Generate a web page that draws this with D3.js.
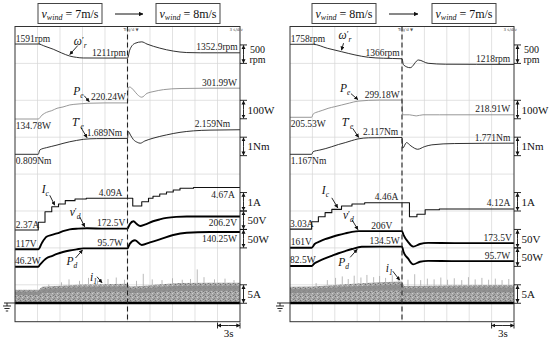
<!DOCTYPE html>
<html>
<head>
<meta charset="utf-8">
<script src="https://cdn.jsdelivr.net/npm/d3@7"></script>
<style>
  body { margin: 0; background: #fff; }
  svg { display: block; font-family: "Liberation Serif", "Times New Roman", serif; }
</style>
</head>
<body>
<svg id="chart" width="550" height="340"></svg>
<script>
// scope captures, time in s (3 s/div, wind step at 15 s)
// left: v_wind 7 -> 8 m/s, right: 8 -> 7 m/s
const windLeft = ["7m/s", "8m/s"];
const windRight = ["8m/s", "7m/s"];

// rotor speed (rpm)
const speedL_t = [0, 3.1, 4, 5.1, 6.2, 7.3, 8.2, 9.1, 12, 15, 15.3, 16, 16.9, 17.6, 19.3, 21.1, 22.9, 24.7, 27, 30];
const speedL   = [1591, 1591, 1530, 1450, 1350, 1265, 1230, 1213, 1211, 1211, 1430, 1610, 1650, 1590, 1480, 1400, 1360, 1353, 1353, 1353];
const speedR_t = [0, 3.1, 5, 6.9, 8.7, 10.5, 12.5, 15, 15.2, 16.1, 17.2, 18.5, 20.8, 25, 30];
const speedR   = [1758, 1758, 1650, 1557, 1470, 1405, 1380, 1366, 1200, 1123, 1332, 1243, 1218, 1215, 1212];

// electrical power Pe (W)
const peL_t = [0, 3.1, 3.6, 4.2, 4.9, 5.6, 6.4, 7.3, 8.4, 9.6, 12, 15, 15.1, 15.3, 15.8, 16.3, 16.9, 17.6, 18.4, 19.8, 22, 26, 30];
const peL   = [134.8, 134.8, 156, 171, 180, 193, 200, 211, 216, 220, 222, 222, 305, 308, 292, 268, 253, 274, 283, 294, 300, 302, 302];
const peR_t = [0, 2.9, 3.1, 3.8, 4.4, 5.1, 6, 6.9, 8, 9.1, 12, 15, 15.1, 16, 16.9, 17.8, 20, 30];
const peR   = [205.5, 205.5, 223, 236, 244, 254, 263, 272, 283, 293, 299, 299, 219, 219, 213, 219, 219, 219];

// electromagnetic torque Te (Nm)
const teL_t = [0, 3.1, 3.3, 4.2, 4.9, 5.6, 6.4, 7.3, 8.2, 9.1, 10.9, 15, 15.1, 15.4, 15.8, 16.3, 16.7, 17.3, 18.4, 20.2, 22, 23.8, 26, 30];
const teL   = [0.809, 0.809, 1.04, 1.17, 1.24, 1.31, 1.40, 1.49, 1.56, 1.62, 1.66, 1.67, 2.05, 1.85, 1.6, 1.46, 1.41, 1.53, 1.68, 1.86, 2.0, 2.08, 2.12, 2.14];
const teR_t = [0, 2.9, 3.1, 4.0, 4.8, 5.6, 6.5, 7.4, 8.2, 9.1, 10.5, 15, 15.1, 15.6, 16.2, 17.1, 18, 19, 22, 30];
const teR   = [1.167, 1.167, 1.31, 1.40, 1.48, 1.58, 1.70, 1.80, 1.90, 2.00, 2.06, 2.08, 1.50, 1.80, 1.62, 1.44, 1.58, 1.68, 1.75, 1.771];

// current reference Ic (A), stepped
const icL_t = [0, 3.1, 4.0, 4.9, 5.8, 6.7, 8.0, 9.5, 15.7, 16.9, 17.8, 18.4, 19.3, 20.2, 21.1, 22, 23.8, 30];
const icL   = [2.37, 2.79, 3.36, 3.63, 3.78, 3.96, 4.05, 4.09, 3.67, 3.90, 4.09, 4.20, 4.32, 4.43, 4.54, 4.63, 4.67, 4.67];
const icR_t = [0, 2.9, 3.8, 4.7, 5.6, 6.9, 8.3, 10.0, 16.0, 17.0, 18.1, 20, 30];
const icR   = [3.03, 3.43, 3.70, 3.92, 4.10, 4.28, 4.39, 4.46, 3.70, 3.83, 4.08, 4.12, 4.12];

// dc voltage vd (V)
const vdL_t = [0, 3.1, 3.6, 4.2, 4.9, 5.6, 6.4, 7.3, 8.4, 9.6, 12, 15, 15.3, 15.8, 16.2, 16.7, 17.3, 18.4, 19.3, 20.2, 21.5, 22.9, 26, 30];
const vdL   = [117, 117, 135, 151, 156, 160, 166, 171, 173, 174, 173, 173, 185, 193, 186, 180, 184, 193, 198, 202, 205, 206, 206, 206];
const vdR_t = [0, 2.9, 3.3, 4.0, 4.7, 5.6, 6.5, 7.4, 8.3, 9.2, 12, 15, 15.2, 15.8, 16.5, 17.4, 18.5, 22, 30];
const vdR   = [161, 161, 171, 178, 184, 190, 195.5, 200, 204, 206, 206, 206, 196, 177, 164, 171, 174, 173.5, 173.5];

// dc power Pd (W)
const pdL_t = [0, 3.1, 3.3, 4.2, 4.9, 5.6, 6.4, 7.3, 8.2, 9.1, 12, 15, 15.3, 16, 16.9, 18, 19.3, 21.1, 22.9, 26, 30];
const pdL   = [46.2, 46.2, 51, 69, 75, 81, 86, 90, 93, 95.7, 95.7, 95.7, 108, 118, 105, 112, 120, 132, 138, 140, 140.25];
const pdR_t = [0, 2.9, 3.3, 4.0, 4.7, 5.6, 6.5, 7.4, 8.3, 9.6, 12, 15, 15.2, 15.8, 16.5, 17.4, 18.5, 22, 30];
const pdR   = [82.5, 82.5, 90, 97, 103, 110, 117, 123, 128.5, 134.5, 135, 135, 121, 103, 87, 94, 96.5, 95.7, 95.7];

// line current i1: envelope of the band (A) and the taller spikes
const i1L_t = [0, 3.2, 3.6, 6, 9, 12, 15, 15.3, 17, 19, 22, 26, 30];
const i1L   = [3.6, 3.6, 4.4, 4.7, 5.0, 5.1, 5.2, 4.5, 4.6, 5.0, 5.4, 5.5, 5.5];
const i1R_t = [0, 3, 6, 9, 12, 15, 15.3, 18, 22, 26, 30];
const i1R   = [4.4, 4.5, 4.9, 5.3, 5.6, 5.8, 4.6, 4.7, 4.8, 4.9, 4.9];
const spikeL_t = [4.5, 6.2, 7.2, 8.6, 9.8, 11.0, 12.4, 13.5, 14.6, 16.2, 17.1, 18.3, 19.6, 21.0, 22.3, 23.4, 24.3, 25.2, 26.6, 28.0, 29.2];
const spikeL   = [5.0, 5.6, 6.4, 6.0, 6.8, 6.1, 6.5, 6.9, 6.3, 6.0, 7.9, 6.4, 6.2, 6.7, 6.3, 6.5, 9.1, 7.0, 6.4, 6.6, 6.2];
const spikeR_t = [3.5, 5.0, 6.1, 7.0, 7.8, 8.6, 9.5, 10.3, 11.2, 12.0, 12.8, 13.7, 14.5, 15.8, 16.7, 17.5, 18.4, 19.3, 20.2, 21.1, 22.0, 23.0, 23.9, 24.8, 25.7, 26.6, 27.5, 28.4, 29.3];
const spikeR   = [5.4, 6.2, 6.8, 7.2, 6.5, 7.4, 6.9, 7.6, 7.0, 7.3, 6.8, 7.5, 7.0, 6.3, 7.8, 6.2, 6.6, 6.4, 6.9, 6.3, 6.7, 6.2, 7.0, 6.4, 6.8, 6.3, 6.6, 6.2, 6.5];

// value call-outs: text, channel, time, anchor, above/below
const calloutsL = [
  ["1591rpm", "speed", 0.1, "start", 1], ["1211rpm", "speed", 14.8, "end", 1], ["1352.9rpm", "speed", 29.7, "end", 1],
  ["301.99W", "pe", 29.6, "end", 1], ["220.24W", "pe", 14.8, "end", 1], ["134.78W", "pe", 0.1, "start", 0],
  ["1.689Nm", "te", 14.3, "end", 1], ["2.159Nm", "te", 28.7, "end", 1], ["0.809Nm", "te", 0.1, "start", 0],
  ["4.09A", "ic", 14.3, "end", 1], ["4.67A", "ic", 29.3, "end", 0], ["2.37A", "ic", 0.1, "start", 1],
  ["172.5V", "vd", 14.7, "end", 1], ["206.2V", "vd", 29.6, "end", 0], ["117V", "vd", 0.1, "start", 1],
  ["95.7W", "pd", 14.4, "end", 1], ["140.25W", "pd", 29.6, "end", 0], ["46.2W", "pd", 0.0, "start", 1]
];
const calloutsR = [
  ["1758rpm", "speed", 0.1, "start", 1], ["1366rpm", "speed", 14.7, "end", 1], ["1218rpm", "speed", 29.5, "end", 1],
  ["299.18W", "pe", 14.7, "end", 1], ["218.91W", "pe", 29.5, "end", 1], ["205.53W", "pe", 0.1, "start", 0],
  ["2.117Nm", "te", 14.5, "end", 1], ["1.771Nm", "te", 29.5, "end", 1], ["1.167Nm", "te", 0.1, "start", 0],
  ["4.46A", "ic", 14.5, "end", 1], ["4.12A", "ic", 29.5, "end", 1], ["3.03A", "ic", 0.0, "start", 1],
  ["206V", "vd", 13.7, "end", 1], ["173.5V", "vd", 29.7, "end", 1], ["161V", "vd", 0.1, "start", 1],
  ["134.5W", "pd", 14.7, "end", 1], ["95.7W", "pd", 29.5, "end", 1], ["82.5W", "pd", 0.0, "start", 1]
];

// scale bars: bottom division, text lines
const barsL = [[7.0, ["500", "rpm"]], [5.5, ["100W"]], [4.5, ["1Nm"]], [3.0, ["1A"]], [2.5, ["50V"]], [2.0, ["50W"]], [0.5, ["5A"]]];
const barsR = [[7.0, ["500", "rpm"]], [5.5, ["100W"]], [4.5, ["1Nm"]], [3.0, ["1A"]], [2.0, ["50V"]], [1.5, ["50W"]], [0.5, ["5A"]]];

// channel settings: units per division
const perDiv = { speed: 1000, pe: 200, te: 2, ic: 2, vd: 100, pd: 100, i1: 10 };

const svg = d3.select("#chart");
const yDiv = d3.scaleLinear().domain([0, 8]).range([321.7, 26.5]);

const defs = svg.append("defs");
defs.append("marker").attr("id", "ah").attr("viewBox", "0 0 6 6")
  .attr("refX", 5.5).attr("refY", 3).attr("markerWidth", 4.5).attr("markerHeight", 4.5)
  .attr("orient", "auto-start-reverse")
  .append("path").attr("d", "M0,0L6,3L0,6Z").attr("fill", "#111");
const pat = defs.append("pattern").attr("id", "speck").attr("width", 5).attr("height", 4)
  .attr("patternUnits", "userSpaceOnUse");
pat.append("rect").attr("width", 5).attr("height", 4).attr("fill", "#a4a4a4");
[[0, 0, "#707070"], [2, 1, "#cfcfcf"], [4, 2, "#858585"], [1, 3, "#c0c0c0"], [3, 3, "#7a7a7a"], [3, 0, "#b8b8b8"]]
  .forEach(function (p) { pat.append("rect").attr("x", p[0]).attr("y", p[1]).attr("width", 1).attr("height", 1).attr("fill", p[2]); });

function interp(ts, vs, t, step) {
  var i = d3.bisectRight(ts, t);
  if (i <= 0) return vs[0];
  if (i >= ts.length) return vs[vs.length - 1];
  if (step) return vs[i - 1];
  return vs[i - 1] + (vs[i] - vs[i - 1]) * (t - ts[i - 1]) / (ts[i] - ts[i - 1]);
}

const panels = [
  {
    x0: 15, x1: 240, wind: windLeft, boxes: [38, 156], arrow: [115, 143], ground: 4,
    zero: { speed: 5.934, pe: 4.819, te: 4.132, ic: 1.300, vd: 0.792, pd: 1.029, i1: 0.507 },
    series: { speed: [speedL_t, speedL], pe: [peL_t, peL], te: [teL_t, teL], ic: [icL_t, icL], vd: [vdL_t, vdL], pd: [pdL_t, pdL] },
    i1: [i1L_t, i1L], spikes: [spikeL_t, spikeL], callouts: calloutsL, bars: barsL,
    notes: [
      ["speed", 7.3, [8, -9], [4, -10], "ω", "r", true],
      ["pe", 9.9, [-5, -6], [-16, -7], "P", "e", false],
      ["te", 9.6, [-6, -10], [-15, -12], "T", "e", true],
      ["ic", 5.3, [-5, -10], [-13, -12], "I", "c", false],
      ["vd", 9.3, [-5, -10], [-15, -11], "v", "d", true],
      ["pd", 9.0, [-7, 8], [-16, 15], "P", "d", false],
      ["i1", 11.6, [-5, -6], [-12, -2], "i", "1", false]
    ]
  },
  {
    x0: 290, x1: 514, wind: windRight, boxes: [312, 432], arrow: [389, 418], ground: 277,
    zero: { speed: 5.760, pe: 4.512, te: 3.953, ic: 0.995, vd: 0.395, pd: 0.6845, i1: 0.507 },
    series: { speed: [speedR_t, speedR], pe: [peR_t, peR], te: [teR_t, teR], ic: [icR_t, icR], vd: [vdR_t, vdR], pd: [pdR_t, pdR] },
    i1: [i1R_t, i1R], spikes: [spikeR_t, spikeR], callouts: calloutsR, bars: barsR,
    notes: [
      ["speed", 6.9, [2, -7], [-3, -11], "ω", "r", true],
      ["pe", 9.1, [-7, -6], [-18, -8], "P", "e", false],
      ["te", 9.2, [-6, -9], [-17, -11], "T", "e", true],
      ["ic", 6.4, [-6, -10], [-16, -14], "I", "c", false],
      ["vd", 9.1, [-6, -10], [-15, -11], "v", "d", true],
      ["pd", 9.0, [-7, 8], [-19, 17], "P", "d", false],
      ["i1", 14.7, [-7, -9], [-14, -8], "i", "1", false]
    ]
  }
];

const style = {
  speed: { c: "#1a1a1a", w: 0.9 }, pe: { c: "#8c8c8c", w: 0.9 }, te: { c: "#1a1a1a", w: 0.9 },
  ic: { c: "#111", w: 1.1 }, vd: { c: "#000", w: 1.9 }, pd: { c: "#000", w: 1.9 }
};

panels.forEach(function (p) {
  const x = d3.scaleLinear().domain([0, 30]).range([p.x0, p.x1]);
  const yc = function (ch, v) { return yDiv(p.zero[ch] + v / perDiv[ch]); };
  const g = svg.append("g");

  // wind speed boxes
  p.boxes.forEach(function (bx, i) {
    g.append("rect").attr("x", bx).attr("y", 3.5).attr("width", 64).attr("height", 20)
      .attr("fill", "none").attr("stroke", "#444").attr("stroke-width", 1);
    const t = g.append("text").attr("x", bx + 32).attr("y", 18).attr("text-anchor", "middle")
      .attr("font-size", 12).attr("fill", "#111");
    t.append("tspan").attr("font-style", "italic").text("v");
    t.append("tspan").attr("font-style", "italic").attr("font-size", 8).attr("dy", 2).text("wind");
    t.append("tspan").attr("dy", -2).text(" = " + p.wind[i]);
  });
  g.append("line").attr("x1", p.arrow[0]).attr("x2", p.arrow[1]).attr("y1", 14).attr("y2", 14)
    .attr("stroke", "#111").attr("stroke-width", 1).attr("marker-end", "url(#ah)");

  // grid
  g.append("g").selectAll("line").data(d3.range(1, 10)).join("line")
    .attr("x1", function (d) { return x(d * 3); }).attr("x2", function (d) { return x(d * 3); })
    .attr("y1", yDiv(8)).attr("y2", yDiv(0)).attr("stroke", "#d6d6d6").attr("stroke-width", 0.7);
  g.append("g").selectAll("line").data(d3.range(1, 8)).join("line")
    .attr("x1", p.x0).attr("x2", p.x1)
    .attr("y1", function (d) { return yDiv(d); }).attr("y2", function (d) { return yDiv(d); })
    .attr("stroke", "#d6d6d6").attr("stroke-width", 0.7);

  // i1 band
  const env = p.i1;
  const bandPts = env[0].map(function (t, i) { return [t, env[1][i]]; });
  g.append("g").selectAll("line").data(p.spikes[0]).join("line")
    .attr("x1", function (d) { return x(d); }).attr("x2", function (d) { return x(d); })
    .attr("y1", function (d) { return yc("i1", interp(env[0], env[1], d)); })
    .attr("y2", function (d, i) { return yc("i1", p.spikes[1][i]); })
    .attr("stroke", "#a8a8a8").attr("stroke-width", 0.8);
  g.append("path").datum(bandPts)
    .attr("d", d3.area().x(function (d) { return x(d[0]); })
      .y0(yc("i1", 0)).y1(function (d) { return yc("i1", d[1]); }))
    .attr("fill", "url(#speck)");
  g.append("path").datum(bandPts)
    .attr("d", d3.area().x(function (d) { return x(d[0]); })
      .y0(function (d) { return yc("i1", d[1] * 0.6); }).y1(function (d) { return yc("i1", d[1] * 0.86); }))
    .attr("fill", "#8a8a8a").attr("opacity", 0.8);
  g.append("line").attr("x1", p.x0).attr("x2", p.x1).attr("y1", yc("i1", 0)).attr("y2", yc("i1", 0))
    .attr("stroke", "#000").attr("stroke-width", 2.6);

  // traces
  Object.keys(p.series).forEach(function (ch) {
    const s = p.series[ch];
    const pts = s[0].map(function (t, i) { return [t, s[1][i]]; });
    g.append("path").datum(pts)
      .attr("d", d3.line().x(function (d) { return x(d[0]); }).y(function (d) { return yc(ch, d[1]); })
        .curve(ch === "ic" ? d3.curveStepAfter : d3.curveMonotoneX))
      .attr("fill", "none").attr("stroke", style[ch].c).attr("stroke-width", style[ch].w)
      .attr("stroke-linejoin", "round");
  });

  // frame and trigger line
  g.append("rect").attr("x", p.x0).attr("y", yDiv(8)).attr("width", p.x1 - p.x0).attr("height", yDiv(0) - yDiv(8))
    .attr("fill", "none").attr("stroke", "#333").attr("stroke-width", 1);
  g.append("line").attr("x1", x(15)).attr("x2", x(15)).attr("y1", yDiv(8)).attr("y2", yDiv(0))
    .attr("stroke", "#222").attr("stroke-width", 1.1).attr("stroke-dasharray", "5,3");
  g.append("text").attr("x", x(15) - 4).attr("y", yDiv(8) + 4).attr("font-size", 4)
    .attr("font-family", "DejaVu Sans").attr("fill", "#555").text("Trig'd ▼");
  g.append("text").attr("x", x(28.6)).attr("y", yDiv(8) + 4).attr("font-size", 4)
    .attr("font-family", "DejaVu Sans").attr("fill", "#555").text("3 s/div");

  // value call-outs
  p.callouts.forEach(function (c) {
    const s = p.series[c[1]];
    const v = interp(s[0], s[1], c[2], c[1] === "ic");
    g.append("text").attr("x", x(c[2])).attr("y", yc(c[1], v) + (c[4] ? -2.5 : 10))
      .attr("text-anchor", c[3]).attr("font-size", 9.5).attr("fill", "#222").text(c[0]);
  });

  // symbol call-outs with arrows (one text element: glyph, prime, subscript)
  p.notes.forEach(function (n) {
    const ch = n[0];
    const s = ch === "i1" ? p.i1 : p.series[ch];
    const v = interp(s[0], s[1], n[1], ch === "ic");
    const tx = x(n[1]), ty = yc(ch, v) + (n[2][1] < 0 ? -1.5 : 1.5);
    g.append("line").attr("x1", tx + n[2][0]).attr("y1", ty + n[2][1]).attr("x2", tx).attr("y2", ty)
      .attr("stroke", "#111").attr("stroke-width", 0.9).attr("marker-end", "url(#ah)");
    const lx = tx + n[3][0], ly = ty + n[3][1];
    const t = g.append("text").attr("x", lx).attr("y", ly).attr("font-size", 11.5)
      .attr("font-style", "italic").attr("fill", "#111");
    t.append("tspan").text(n[4]);
    if (n[6]) {
      t.append("tspan").attr("font-size", 9).attr("font-style", "normal").attr("dy", -2).text("′");
      t.append("tspan").attr("font-size", 7.5).attr("dy", 5).text(n[5]);
    } else {
      t.append("tspan").attr("font-size", 7.5).attr("dy", 3).text(n[5]);
    }
  });

  // scale bars
  const bx = p.x1 + 3.5;
  p.bars.forEach(function (b) {
    const ya = yDiv(b[0] + 0.5), yb = yDiv(b[0]);
    g.append("line").attr("x1", bx).attr("x2", bx).attr("y1", (ya + yb) / 2).attr("y2", ya + 0.5)
      .attr("stroke", "#111").attr("stroke-width", 0.9).attr("marker-end", "url(#ah)");
    g.append("line").attr("x1", bx).attr("x2", bx).attr("y1", (ya + yb) / 2).attr("y2", yb - 0.5)
      .attr("stroke", "#111").attr("stroke-width", 0.9).attr("marker-end", "url(#ah)");
    [ya, yb].forEach(function (yy) {
      g.append("line").attr("x1", bx - 3.5).attr("x2", bx + 3.5).attr("y1", yy).attr("y2", yy)
        .attr("stroke", "#111").attr("stroke-width", 0.9);
    });
    if (b[1].length === 2) {
      g.append("text").attr("x", bx + 14).attr("y", (ya + yb) / 2 - 1.5).attr("text-anchor", "middle")
        .attr("font-size", 10).attr("fill", "#111").text(b[1][0]);
      g.append("text").attr("x", bx + 14).attr("y", (ya + yb) / 2 + 8.5).attr("text-anchor", "middle")
        .attr("font-size", 10).attr("fill", "#111").text(b[1][1]);
    } else {
      g.append("text").attr("x", bx + 4).attr("y", (ya + yb) / 2 + 4).attr("font-size", 11)
        .attr("fill", "#111").text(b[1][0]);
    }
  });

  // time scale bar
  const sy = 325.5;
  g.append("line").attr("x1", x(28.5)).attr("x2", x(27)).attr("y1", sy).attr("y2", sy)
    .attr("stroke", "#111").attr("stroke-width", 0.9).attr("marker-end", "url(#ah)");
  g.append("line").attr("x1", x(28.5)).attr("x2", x(30)).attr("y1", sy).attr("y2", sy)
    .attr("stroke", "#111").attr("stroke-width", 0.9).attr("marker-end", "url(#ah)");
  [27, 30].forEach(function (t) {
    g.append("line").attr("x1", x(t)).attr("x2", x(t)).attr("y1", sy - 3).attr("y2", sy + 3)
      .attr("stroke", "#111").attr("stroke-width", 0.9);
  });
  g.append("text").attr("x", x(28.5)).attr("y", 337).attr("text-anchor", "middle")
    .attr("font-size", 11).attr("fill", "#111").text("3s");

  // ground symbol
  const gy = yc("i1", 0), gx = p.ground;
  g.append("line").attr("x1", gx).attr("x2", p.x0).attr("y1", gy).attr("y2", gy).attr("stroke", "#111").attr("stroke-width", 0.9);
  g.append("line").attr("x1", gx + 3).attr("x2", gx + 3).attr("y1", gy).attr("y2", gy + 3).attr("stroke", "#111").attr("stroke-width", 0.9);
  [[3, 4], [5.5, 2.6], [8, 1.2]].forEach(function (r) {
    g.append("line").attr("x1", gx + 3 - r[1]).attr("x2", gx + 3 + r[1]).attr("y1", gy + r[0]).attr("y2", gy + r[0])
      .attr("stroke", "#111").attr("stroke-width", 0.9);
  });
});
</script>
</body>
</html>
